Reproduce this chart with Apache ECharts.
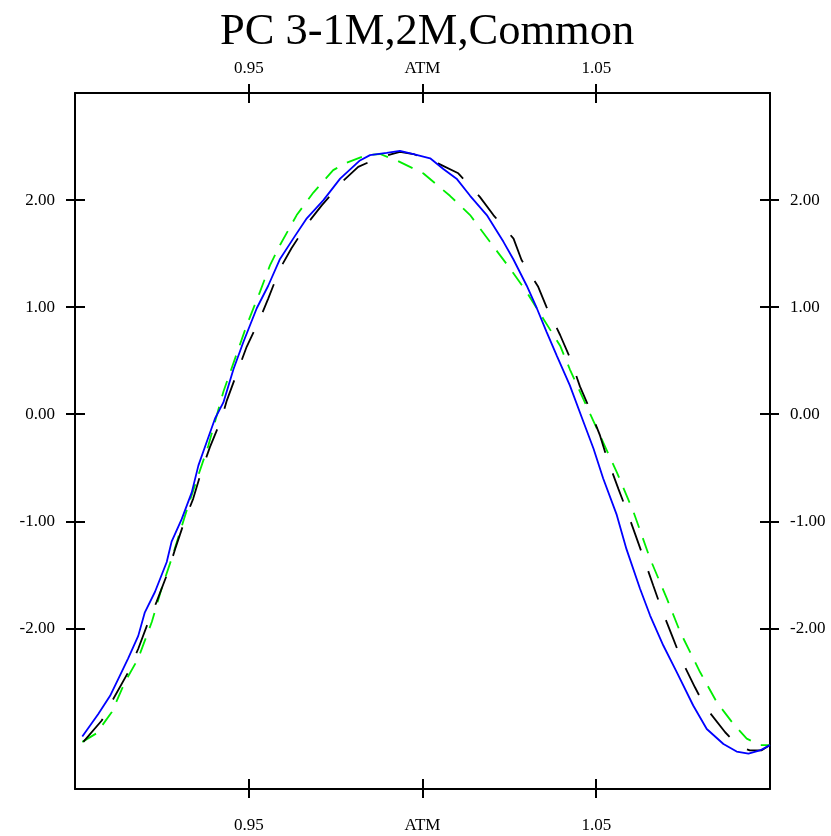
<!DOCTYPE html>
<html>
<head>
<meta charset="utf-8">
<script src="https://cdn.jsdelivr.net/npm/echarts@6/dist/echarts.min.js"></script>
<style>html,body{margin:0;padding:0;background:#fff}#c{width:831px;height:836px}</style>
</head>
<body>
<div id="c"></div>
<script>
const titleText = 'PC 3-1M,2M,Common';
const xTicks = [0.95, 1.00, 1.05];
const xTickLabels = ['0.95', 'ATM', '1.05'];
const yTicks = [-2, -1, 0, 1, 2];
const yTickLabels = ['-2.00', '-1.00', '0.00', '1.00', '2.00'];

// Blue solid series
const blueX = [0.9021,0.9067,0.9101,0.9125,0.9153,0.9182,0.9201,0.9230,0.9264,0.9278,0.9307,0.9336,0.9355,0.9369,0.9403,0.9427,0.9456,0.9484,0.9523,0.9556,0.9590,0.9628,0.9667,0.9715,0.9763,0.9820,0.9849,0.9897,0.9935,0.9974,1.0022,1.0060,1.0098,1.0137,1.0185,1.0233,1.0261,1.0300,1.0329,1.0357,1.0386,1.0424,1.0463,1.0492,1.0520,1.0559,1.0587,1.0626,1.0655,1.0693,1.0732,1.0779,1.0818,1.0866,1.0904,1.0938,1.0971,1.1000];
const blueY = [-3.01,-2.80,-2.63,-2.47,-2.28,-2.07,-1.85,-1.66,-1.38,-1.19,-0.98,-0.73,-0.48,-0.35,-0.04,0.11,0.42,0.67,0.99,1.20,1.45,1.64,1.83,2.00,2.20,2.37,2.42,2.44,2.46,2.43,2.39,2.29,2.20,2.04,1.86,1.61,1.45,1.20,0.99,0.77,0.55,0.27,-0.07,-0.32,-0.60,-0.94,-1.26,-1.63,-1.88,-2.16,-2.41,-2.72,-2.94,-3.08,-3.15,-3.17,-3.14,-3.09];

// Black long-dashed series
const blackX = [0.9024,0.9077,0.9110,0.9153,0.9182,0.9211,0.9235,0.9268,0.9288,0.9317,0.9340,0.9365,0.9388,0.9422,0.9436,0.9470,0.9494,0.9532,0.9556,0.9590,0.9623,0.9671,0.9710,0.9772,0.9815,0.9878,0.9935,0.9974,1.0046,1.0103,1.0165,1.0204,1.0262,1.0285,1.0333,1.0357,1.0396,1.0424,1.0453,1.0477,1.0511,1.0530,1.0564,1.0590,1.0612,1.0635,1.0664,1.0688,1.0722,1.0746,1.0784,1.0813,1.0871,1.0910,1.0942,1.0975,1.1000];
const blackY = [-3.06,-2.86,-2.66,-2.41,-2.19,-1.94,-1.75,-1.47,-1.26,-0.98,-0.79,-0.52,-0.31,-0.04,0.12,0.42,0.63,0.89,1.08,1.36,1.55,1.79,1.95,2.18,2.31,2.40,2.45,2.43,2.34,2.25,2.03,1.86,1.64,1.44,1.19,1.00,0.74,0.53,0.26,0.08,-0.20,-0.40,-0.70,-0.92,-1.12,-1.33,-1.60,-1.82,-2.10,-2.30,-2.55,-2.73,-2.97,-3.10,-3.14,-3.14,-3.09];

// Green short-dashed series
const greenX = [0.9021,0.9062,0.9106,0.9144,0.9182,0.9221,0.9249,0.9278,0.9326,0.9384,0.9427,0.9494,0.9532,0.9561,0.9590,0.9638,0.9686,0.9743,0.9782,0.9839,0.9878,0.9926,1.0002,1.0079,1.0137,1.0194,1.0252,1.0300,1.0348,1.0396,1.0424,1.0463,1.0511,1.0559,1.0607,1.0655,1.0703,1.0741,1.0799,1.0847,1.0894,1.0933,1.0971,1.1000];
const greenY = [-3.06,-2.98,-2.78,-2.50,-2.28,-1.94,-1.63,-1.35,-0.85,-0.29,0.21,0.83,1.14,1.39,1.58,1.86,2.07,2.28,2.35,2.42,2.43,2.37,2.25,2.04,1.86,1.61,1.36,1.14,0.89,0.64,0.42,0.14,-0.20,-0.54,-0.91,-1.35,-1.72,-2.03,-2.41,-2.69,-2.89,-3.03,-3.09,-3.09];

const zip = (xs, ys) => xs.map((x, i) => [x, ys[i]]);
const FONT = '"Liberation Serif", "Times New Roman", serif';
const LW = 2;

function xAx(pos, main, margin) {
  return {
    type: 'value', position: pos, min: 0.9, max: 1.1,
    axisLine: { show: main, onZero: false, lineStyle: { color: '#000', width: LW } },
    axisTick: { show: true, inside: !main, length: main ? 9 : 10, customValues: xTicks, lineStyle: { color: '#000', width: LW } },
    axisLabel: {
      show: main, customValues: xTicks, margin: margin,
      fontFamily: FONT, fontSize: 17, color: '#000',
      formatter: v => { const i = xTicks.findIndex(t => Math.abs(t - v) < 1e-9); return i >= 0 ? xTickLabels[i] : ''; }
    },
    splitLine: { show: false }
  };
}
function yAx(pos, main) {
  return {
    type: 'value', position: pos, min: -3.5, max: 3.0,
    axisLine: { show: main, onZero: false, lineStyle: { color: '#000', width: LW } },
    axisTick: { show: true, inside: !main, length: main ? 9 : 10, customValues: yTicks, lineStyle: { color: '#000', width: LW } },
    axisLabel: {
      show: main, customValues: yTicks, margin: 20,
      fontFamily: FONT, fontSize: 17, color: '#000',
      formatter: v => { const i = yTicks.findIndex(t => Math.abs(t - v) < 1e-9); return i >= 0 ? yTickLabels[i] : ''; }
    },
    splitLine: { show: false }
  };
}

const chart = echarts.init(document.getElementById('c'), null, { renderer: 'canvas' });
chart.setOption({
  animation: false,
  backgroundColor: '#fff',
  title: {
    text: titleText, left: 215, top: 5,
    textStyle: { fontFamily: FONT, fontSize: 44.5, fontWeight: 'normal', color: '#000' }
  },
  grid: { left: 75, right: 61, top: 93, bottom: 47, containLabel: false },
  xAxis: [xAx('bottom', true, 28), xAx('bottom', false, 8), xAx('top', true, 16), xAx('top', false, 8)],
  yAxis: [yAx('left', true), yAx('left', false), yAx('right', true), yAx('right', false)],
  series: [
    { type: 'line', data: zip(greenX, greenY), showSymbol: false, xAxisIndex: 0, yAxisIndex: 0,
      lineStyle: { color: '#00ee00', width: 1.8, type: [16, 11] } },
    { type: 'line', data: zip(blackX, blackY), showSymbol: false, xAxisIndex: 0, yAxisIndex: 0,
      lineStyle: { color: '#000', width: 1.8, type: [30, 22] } },
    { type: 'line', data: zip(blueX, blueY), showSymbol: false, xAxisIndex: 0, yAxisIndex: 0,
      lineStyle: { color: '#0000ff', width: 1.8 } }
  ]
});
</script>
</body>
</html>
